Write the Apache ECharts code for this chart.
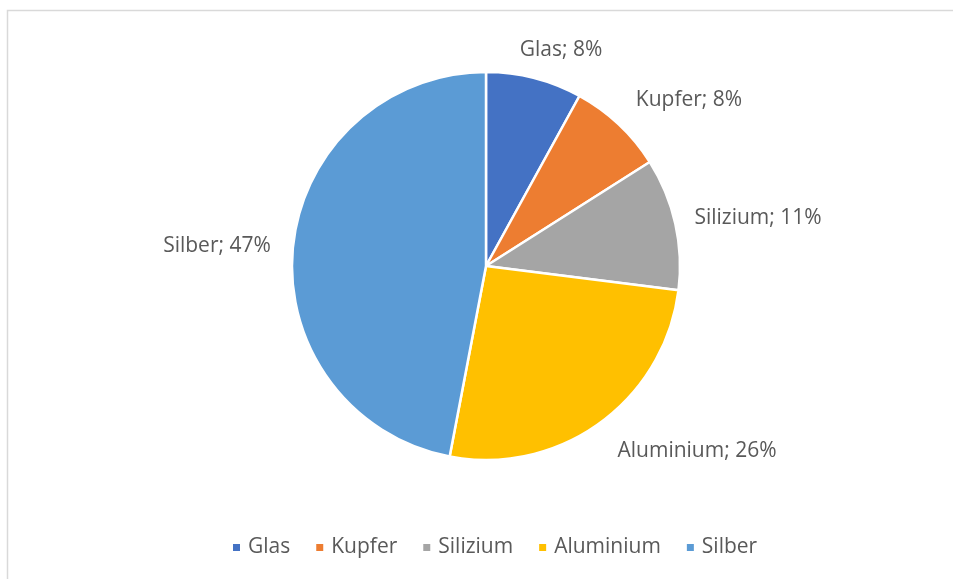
<!DOCTYPE html>
<html><head><meta charset="utf-8">
<script src="https://cdn.jsdelivr.net/npm/echarts@6/dist/echarts.min.js"></script>
<style>html,body{margin:0;padding:0;background:#fff}#c{width:953px;height:579px}</style>
</head><body><div id="c"></div>
<script>
const categories = ["Glas", "Kupfer", "Silizium", "Aluminium", "Silber"];
const values = [8, 8, 11, 26, 47];
const colors = ["#4472C4", "#ED7D31", "#A5A5A5", "#FFC000", "#5B9BD5"];
const font = "'Open Sans', sans-serif";
const pieCenter = [486, 266];
// label centre offsets from the pie centre (layout only, like Excel's best fit)
const labelOffsets = [[75, -216], [203, -166], [272, -48], [211, 185], [-269, -20]];
const chart = echarts.init(document.getElementById('c'), null, {renderer: 'canvas'});
chart.setOption({
  animation: false,
  backgroundColor: '#fff',
  color: colors,
  graphic: [{type: 'rect', left: 5, top: 8, shape: {width: 1000, height: 600}, style: {fill: 'none', stroke: '#d9d9d9', lineWidth: 1.5}, silent: true}],
  legend: {
    top: 532, left: 226, itemWidth: 9, itemHeight: 9, itemGap: 24, icon: 'rect',
    textStyle: {fontFamily: font, fontSize: 21, color: '#595959', padding: [0, 0, 0, 2]},
    data: categories
  },
  series: [{
    type: 'pie',
    center: pieCenter, radius: 194,
    startAngle: 90, clockwise: true,
    itemStyle: {borderColor: '#fff', borderWidth: 2.5},
    label: {show: true, position: 'outside', formatter: p => p.name + '; ' + p.value + '%',
      fontFamily: font, fontSize: 21, color: '#595959'},
    labelLine: {show: false, length: 10, length2: 0},
    labelLayout: p => ({
      x: pieCenter[0] + labelOffsets[p.dataIndex][0],
      y: pieCenter[1] + labelOffsets[p.dataIndex][1],
      align: 'center', verticalAlign: 'middle'
    }),
    data: categories.map((c, i) => ({name: c, value: values[i]}))
  }]
});
</script></body></html>
